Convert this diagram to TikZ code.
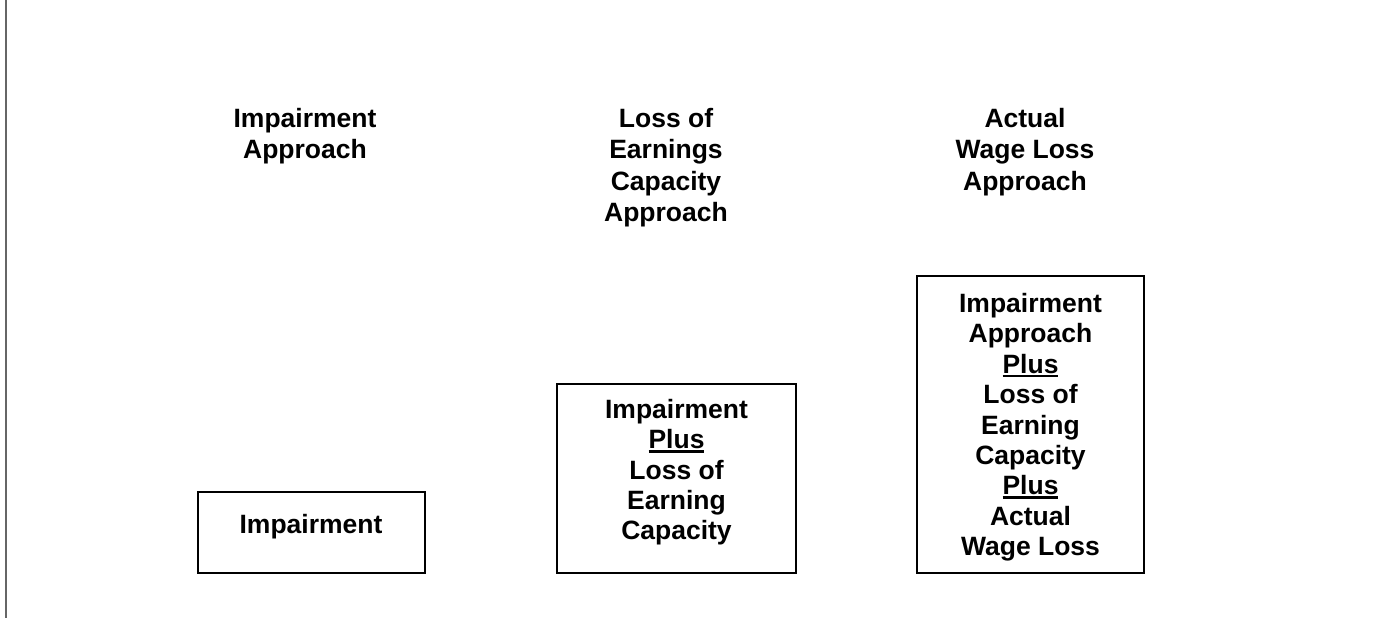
\documentclass[tikz,border=0pt]{standalone}
\usepackage{fontspec}
\setmainfont{Liberation Sans}
\usepackage{tikz}

% thick underline for the Plus lines
\newcommand{\plusul}[1]{\setbox0\hbox{#1}\rlap{\rule[-4pt]{\wd0}{2.6pt}}\box0}

\begin{document}
\begin{tikzpicture}[x=1pt, y=-1pt,
    head/.style={inner sep=0pt, align=center, anchor=north,
        font=\bfseries\fontsize{26.5}{31.4}\selectfont},
    box/.style={draw, line width=2pt, inner sep=0pt, align=center,
        font=\bfseries\fontsize{26.5}{30.4}\selectfont}]
    \useasboundingbox (0,0) rectangle (1395,618);
    \draw[gray!80!black, line width=1.6pt] (6,0) -- (6,618);

    % column headings
    \node[head] (hImp) at (305,108) {Impairment\\Approach};
    \node[head] (hLoss) at (666,108) {Loss of\\Earnings\\Capacity\\Approach};
    \node[head] (hWage) at (1025,108) {Actual\\Wage Loss\\Approach};

    % boxes
    \node[box, minimum width=227pt, minimum height=81pt, text depth=18pt] (bImp) at (311,532.5) {Impairment};
    \node[box, minimum width=239pt, minimum height=189pt, text depth=18pt] (bLoss) at (676.5,478.5)
        {Impairment\\\plusul{Plus}\\Loss of\\Earning\\Capacity};
    \node[box, minimum width=227pt, minimum height=297pt, text depth=0pt] (bWage) at (1030.5,424.5)
        {Impairment\\Approach\\\plusul{Plus}\\Loss of\\Earning\\Capacity\\\plusul{Plus}\\Actual\\Wage Loss};
\end{tikzpicture}
\end{document}
